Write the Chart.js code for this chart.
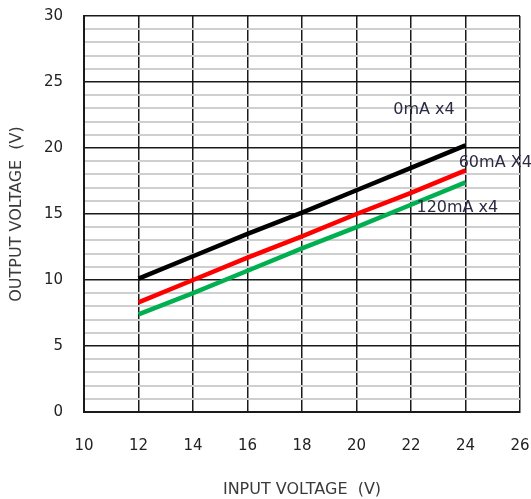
<!DOCTYPE html>
<html>
<head>
<meta charset="utf-8">
<script src="https://cdn.jsdelivr.net/npm/chart.js@4"></script>
<style>
  html, body { margin: 0; padding: 0; background: #fff; }
  #wrap { width: 531px; height: 499px; }
</style>
</head>
<body>
<div id="wrap"><canvas id="chart"></canvas></div>
<script>
// input voltage (V)
const inputVoltage = [12, 14, 16, 18, 20, 22, 24];
// output voltage (V) per load
const out0mA = [10.1, 11.8, 13.5, 15.1, 16.8, 18.5, 20.2];
const out60mA = [8.3, 10.0, 11.7, 13.3, 15.0, 16.6, 18.3];
const out120mA = [7.4, 9.0, 10.7, 12.4, 14.0, 15.7, 17.4];
const seriesNames = ["0mA x4", "60mA X4", "120mA x4"];

const FONT = "'DejaVu Sans', sans-serif";

function pts(ys) {
  return inputVoltage.map((x, i) => ({ x: x, y: ys[i] }));
}

// series name labels placed in data coordinates
const seriesLabels = {
  id: "seriesLabels",
  afterDatasetsDraw(chart) {
    const ctx = chart.ctx;
    const xs = chart.scales.x;
    const ys = chart.scales.y;
    const anchors = [
      [21.35, 22.9],
      [23.75, 18.85],
      [22.2, 15.45],
    ];
    ctx.save();
    ctx.font = "16px " + FONT;
    ctx.fillStyle = "#2a2a44";
    ctx.textAlign = "left";
    ctx.textBaseline = "middle";
    seriesNames.forEach((name, i) => {
      ctx.fillText(name, xs.getPixelForValue(anchors[i][0]), ys.getPixelForValue(anchors[i][1]));
    });
    ctx.restore();
  },
};

new Chart(document.getElementById("chart"), {
  type: "line",
  data: {
    datasets: [
      { label: seriesNames[0], data: pts(out0mA), borderColor: "#000000" },
      { label: seriesNames[1], data: pts(out60mA), borderColor: "#ff0000" },
      { label: seriesNames[2], data: pts(out120mA), borderColor: "#00b050" },
    ],
  },
  options: {
    responsive: true,
    maintainAspectRatio: false,
    animation: false,
    layout: { padding: { left: 0, top: 16, right: 11, bottom: 0 } },
    elements: {
      line: { borderWidth: 4.5, tension: 0, borderCapStyle: "butt" },
      point: { radius: 0, hoverRadius: 0 },
    },
    plugins: {
      legend: { display: false },
      tooltip: { enabled: false },
    },
    scales: {
      x: {
        type: "linear",
        min: 10,
        max: 26,
        afterFit(scale) {
          scale.height = 87;
          scale.paddingLeft = 0;
          scale.paddingRight = 0;
        },
        ticks: { stepSize: 2, padding: 25, color: "#222", font: { family: FONT, size: 15 } },
        grid: { color: "#1a1a1a", lineWidth: 1.5, drawTicks: false },
        border: { color: "#1a1a1a", width: 2 },
        title: {
          display: true,
          text: "INPUT VOLTAGE  (V)",
          color: "#3a3a3a",
          font: { family: FONT, size: 16 },
          padding: { top: 1, bottom: 0 },
        },
      },
      y: {
        min: 0,
        max: 30,
        afterFit(scale) {
          scale.width = 84;
          scale.paddingTop = 0;
          scale.paddingBottom = 0;
        },
        ticks: {
          stepSize: 1,
          autoSkip: false,
          padding: 21,
          color: "#222",
          font: { family: FONT, size: 15 },
          callback: (v) => (v % 5 === 0 ? v : ""),
        },
        grid: {
          drawTicks: false,
          color: (c) => (c.tick.value % 5 === 0 ? "#1a1a1a" : "#cfcfcf"),
          lineWidth: (c) => (c.tick.value % 5 === 0 ? 1.5 : 2),
        },
        border: { color: "#1a1a1a", width: 2 },
        title: {
          display: true,
          text: "OUTPUT VOLTAGE  (V)",
          color: "#3a3a3a",
          font: { family: FONT, size: 16 },
          padding: { top: 7, bottom: 0 },
        },
      },
    },
  },
  plugins: [seriesLabels],
});
</script>
</body>
</html>
